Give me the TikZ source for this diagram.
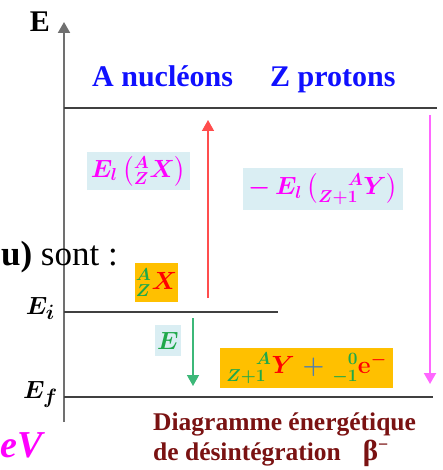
\documentclass[tikz,border=0pt]{standalone}
\usepackage{amsmath}
\usepackage{fontspec}
\setmainfont{Liberation Serif}
\usetikzlibrary{arrows.meta}
\definecolor{boxblue}{HTML}{DAEEF3}
\definecolor{boxorange}{HTML}{FFC000}
\definecolor{txtmag}{HTML}{FF00FF}
\definecolor{arrmag}{HTML}{FF66FF}
\definecolor{arrred}{HTML}{FF4D4D}
\definecolor{arrgreen}{HTML}{3CB878}
\definecolor{txtgreen}{HTML}{1FA84A}
\definecolor{txtred}{HTML}{FF0000}
\definecolor{txtblue}{HTML}{1010FF}
\definecolor{darkred}{HTML}{7A1212}
\definecolor{plusblue}{HTML}{4F7FAF}
\definecolor{axisgray}{HTML}{707070}
\definecolor{linegray}{HTML}{404040}
\newcommand\myElX{\textcolor{txtmag}{\boldmath$E_l\left({}^{A}_{Z}X\right)$}}
\newcommand\myElY{\textcolor{txtmag}{\boldmath$-\,E_l\left({}^{\hphantom{Z+}A}_{Z+1}Y\right)$}}
\newcommand\myAZX{{\boldmath${}^{\textcolor{txtgreen}{A}}_{\textcolor{txtgreen}{Z}}\textcolor{txtred}{X}$}}
\newcommand\myE{\textcolor{txtgreen}{\boldmath$E$}}
\newcommand\myProd{{\boldmath${}^{\textcolor{txtgreen}{\hphantom{Z+}A}}_{\textcolor{txtgreen}{Z+1}}\textcolor{txtred}{Y}\;\textcolor{plusblue}{+}\;{}^{\textcolor{txtgreen}{\hphantom{-}\mathbf{0}}}_{\textcolor{txtgreen}{-\mathbf{1}}}\textcolor{txtred}{\mathbf{e}^{-}}$}}
\newcommand\myEi{{\boldmath$E_i$}}
\newcommand\myEf{{\boldmath$E_f$}}
\begin{document}
\begin{tikzpicture}[x=1pt,y=-1pt,
  tip/.style={-{Triangle[width=12pt,length=11pt]}},
  level/.style={draw=linegray, line width=2pt},
  plain/.style={inner sep=0pt},
  header/.style={plain, anchor=base west, text=txtblue, font=\fontsize{30}{36}\selectfont\bfseries},
  caption/.style={plain, anchor=base west, text=darkred, font=\fontsize{25.5}{30}\selectfont\bfseries},
  bluebox/.style={fill=boxblue, inner sep=0pt},
  orangebox/.style={fill=boxorange, inner sep=0pt},
  lvllabel/.style={plain, anchor=base east, font=\fontsize{24.88}{28}\selectfont},
]
\useasboundingbox (0,0) rectangle (442,470);

% axis
\coordinate (ax0) at (64,422);
\coordinate (ax1) at (64,22);
\draw[axisgray, line width=2pt, tip] (ax0) -- (ax1);
\node[plain, font=\fontsize{30}{36}\selectfont\bfseries] (elabel) at (40,22) {E};

% levels
\coordinate (top0) at (64,108); \coordinate (top1) at (437,108);
\coordinate (ei0) at (64,312); \coordinate (ei1) at (278,312);
\coordinate (ef0) at (64,397); \coordinate (ef1) at (433,397);
\draw[level] (top0) -- (top1);
\draw[level] (ei0) -- (ei1);
\draw[level] (ef0) -- (ef1);

% header
\node[header] (anuc) at (92,87) {A nucléons};
\node[header] (zpro) at (270,87) {Z protons};

% arrows
\coordinate (r0) at (208,298); \coordinate (r1) at (208,120);
\draw[arrred, line width=1.5pt, tip] (r0) -- (r1);
\coordinate (m0) at (430,115); \coordinate (m1) at (430,384);
\draw[arrmag, line width=2pt, tip] (m0) -- (m1);
\coordinate (g0) at (193,318); \coordinate (g1) at (193,386);
\draw[arrgreen, line width=1.5pt, tip] (g0) -- (g1);

% boxes
\node[bluebox, minimum width=103pt, minimum height=38pt, font=\fontsize{26}{30}\selectfont] (elx) at (138.5,171) {\myElX};
\node[bluebox, minimum width=160pt, minimum height=42pt, font=\fontsize{26}{30}\selectfont] (ely) at (323,189) {\myElY};
\node[orangebox, minimum width=43pt, minimum height=39pt, font=\fontsize{26}{30}\selectfont] (azx) at (156.5,282.5) {\myAZX};
\node[bluebox, minimum width=26pt, minimum height=31pt, font=\fontsize{24}{28}\selectfont] (ebox) at (168,340.5) {\myE};
\node[orangebox, minimum width=173pt, minimum height=40pt, font=\fontsize{24}{28}\selectfont] (prod) at (306.5,368) {\myProd};

% level labels
\node[lvllabel] (eilab) at (55,314) {\myEi};
\node[lvllabel] (eflab) at (58,398) {\myEf};

% stray texts
\node[plain, anchor=base east, font=\fontsize{35}{40}\selectfont] (sont) at (118,265) {\textbf{u)} sont :};
\node[plain, anchor=base west, text=txtmag, font=\fontsize{38}{44}\selectfont\bfseries\itshape] (ev) at (0,457) {eV};

% caption
\node[caption] (cap1) at (153,430) {Diagramme énergétique};
\node[caption] (cap2) at (153,460) {de désintégration\hspace{22pt}{\fontsize{29}{30}\selectfont β}\textsuperscript{−}};
\end{tikzpicture}
\end{document}
